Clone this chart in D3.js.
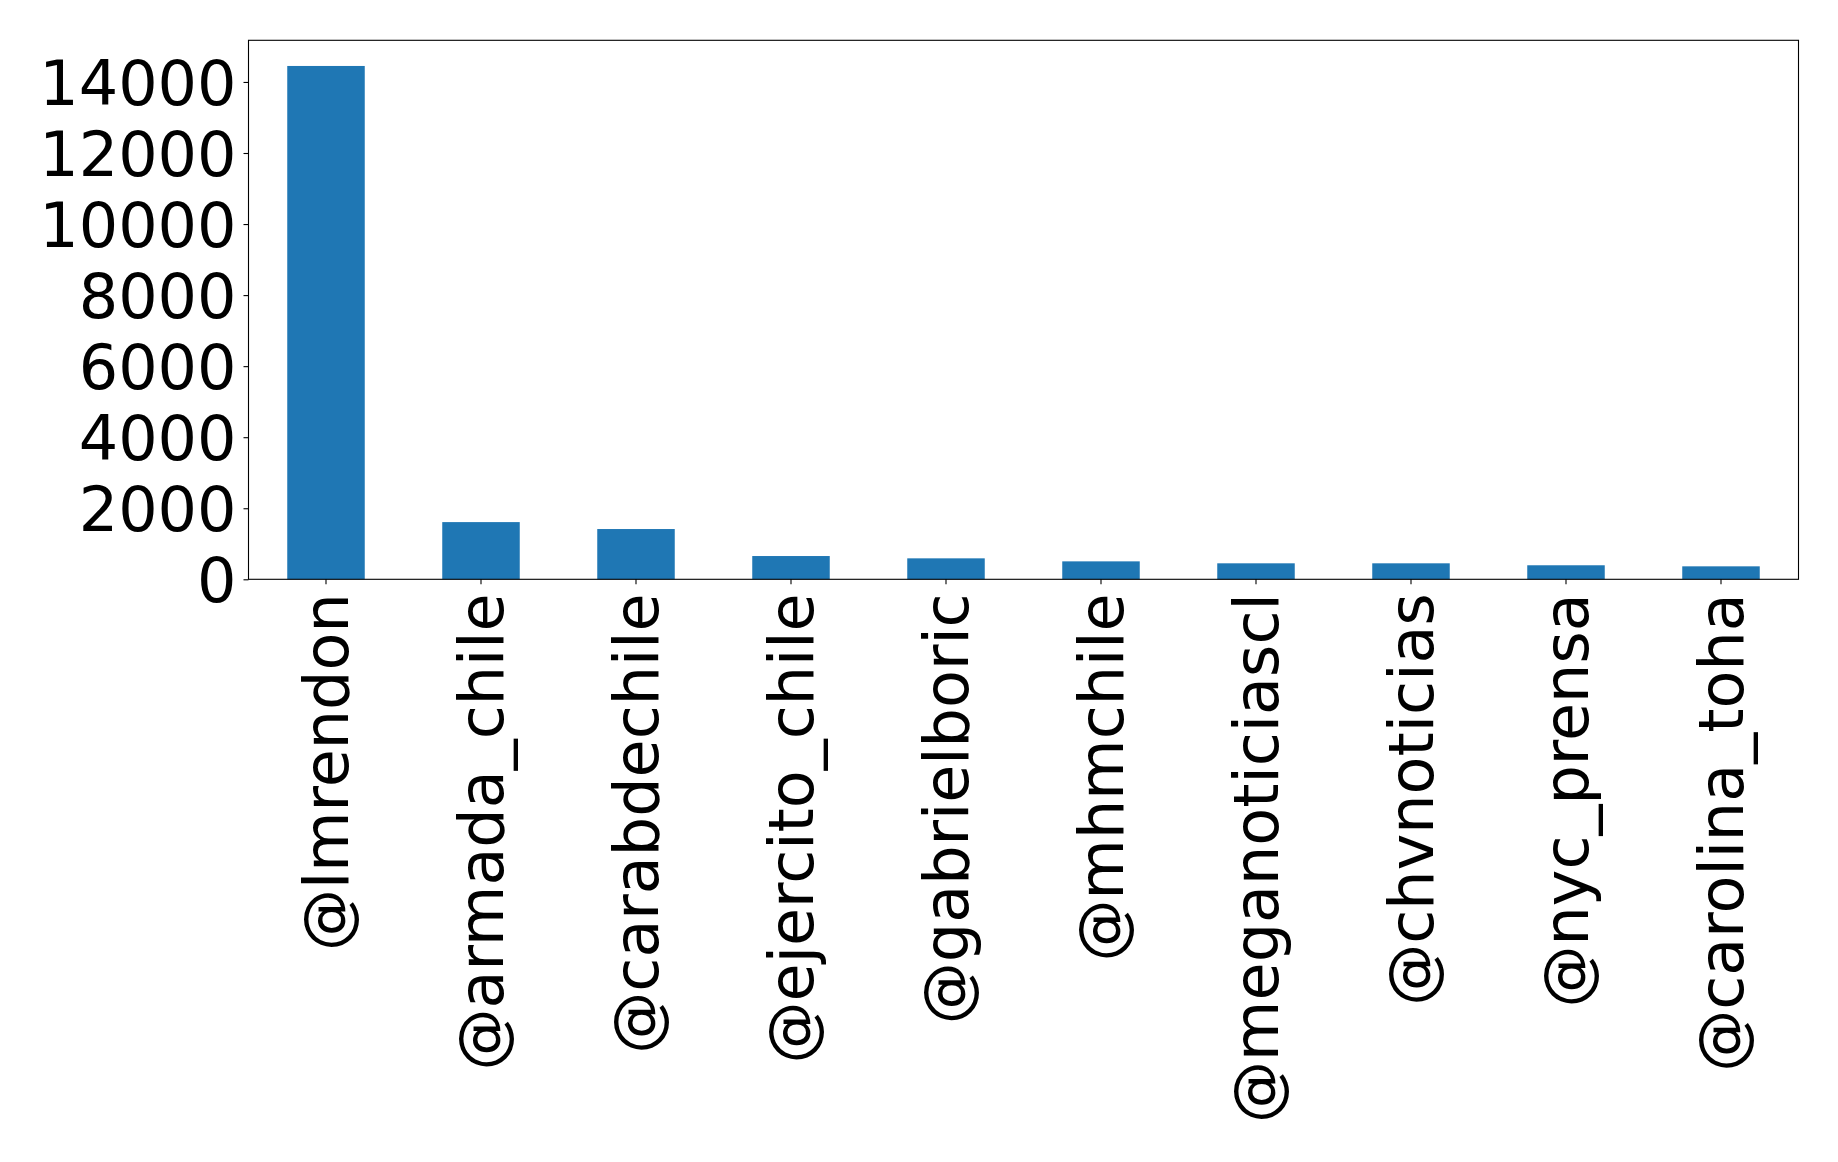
<!DOCTYPE html>
<html>
<head>
<meta charset="utf-8">
<script src="https://cdn.jsdelivr.net/npm/d3@7"></script>
<style>
  body { margin: 0; background: #fff; }
  svg { display: block; }
  .axis text { font-family: "DejaVu Sans", sans-serif; fill: #000; }
  .axis path { display: none; }
  .axis line { stroke: #000; stroke-width: 1.1; }
</style>
</head>
<body>
<svg id="chart" width="1838" height="1162"></svg>
<script>
// top mentioned accounts
const accounts = [
  "@lmrendon", "@armada_chile", "@carabdechile", "@ejercito_chile",
  "@gabrielboric", "@mhmchile", "@meganoticiascl", "@chvnoticias",
  "@nyc_prensa", "@carolina_toha"
];
const mentions = [14450, 1610, 1415, 655, 590, 505, 450, 450, 395, 365];
const yTicks = [0, 2000, 4000, 6000, 8000, 10000, 12000, 14000];

function drawChart() {
  const svg = d3.select("#chart");
  const margin = { top: 40.3, right: 39.5, bottom: 582.7, left: 248.5 };
  const width = 1838 - margin.left - margin.right;
  const height = 1162 - margin.top - margin.bottom;

  const g = svg.append("g")
    .attr("transform", `translate(${margin.left},${margin.top})`);

  const data = accounts.map((name, i) => ({ name, count: mentions[i] }));

  const x = d3.scaleBand()
    .domain(accounts)
    .range([0, width])
    .paddingInner(0.5)
    .paddingOuter(0.25);

  const y = d3.scaleLinear()
    .domain([0, d3.max(mentions) * 1.05]) // matplotlib's 5% top margin
    .range([height, 0]);

  g.selectAll(".bar")
    .data(data)
    .enter()
    .append("rect")
    .attr("class", "bar")
    .attr("x", (d) => x(d.name))
    .attr("y", (d) => y(d.count))
    .attr("width", x.bandwidth())
    .attr("height", (d) => height - y(d.count))
    .attr("fill", "#1f77b4");

  g.append("g")
    .attr("class", "axis")
    .call(d3.axisLeft(y).tickValues(yTicks).tickFormat(d3.format("d")).tickSize(5).tickPadding(7))
    .selectAll("text")
    .style("font-size", "62px")
    .attr("dy", "0.36em");

  const xAxis = g.append("g")
    .attr("class", "axis")
    .attr("transform", `translate(0,${height})`)
    .call(d3.axisBottom(x).tickSize(5).tickPadding(0));

  // vertical labels, reading bottom to top
  xAxis.selectAll("text")
    .style("font-size", "62px")
    .attr("text-anchor", "end")
    .attr("y", 0)
    .attr("dy", "0.36em")
    .attr("transform", "translate(0,14) rotate(-90)");

  // axes frame
  g.append("rect")
    .attr("width", width)
    .attr("height", height)
    .attr("fill", "none")
    .attr("stroke", "#000")
    .attr("stroke-width", 1.1);
}

drawChart();
</script>
</body>
</html>
